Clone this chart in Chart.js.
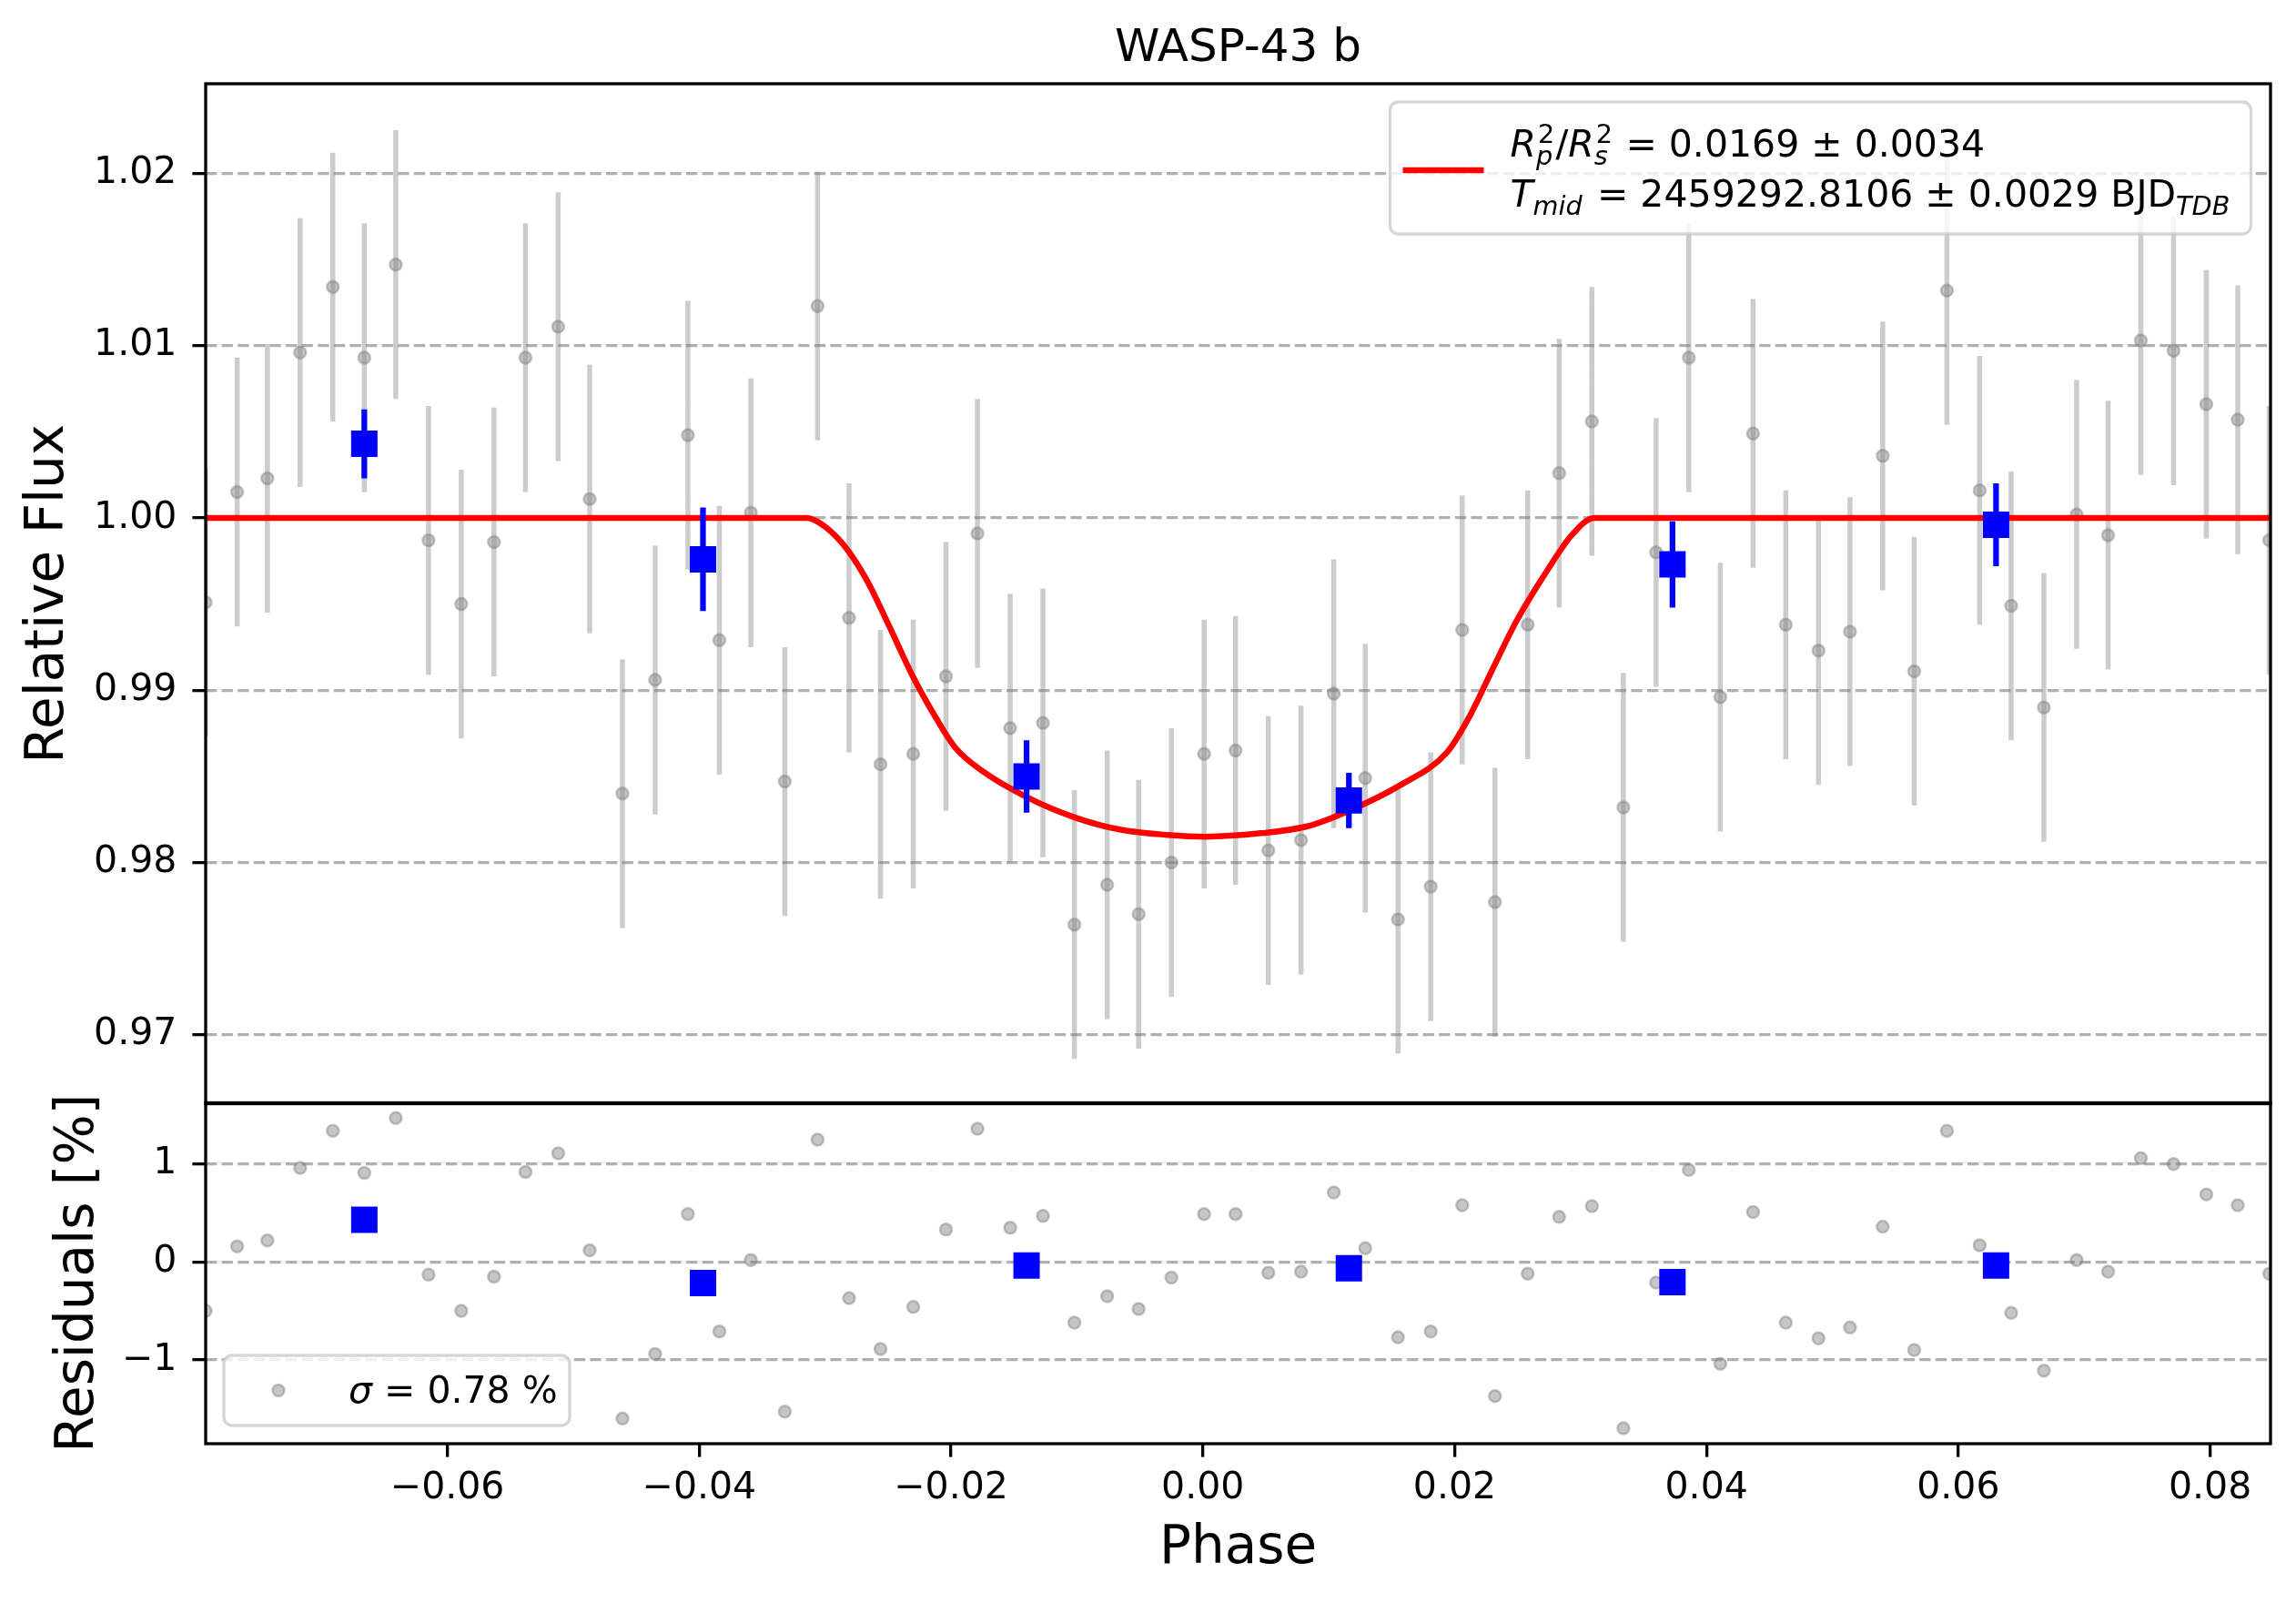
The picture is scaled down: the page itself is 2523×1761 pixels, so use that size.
<!DOCTYPE html>
<html>
<head>
<meta charset="utf-8">
<title>WASP-43 b</title>
<script src="https://cdn.jsdelivr.net/npm/chart.js@4.4.1/dist/chart.umd.min.js"></script>
<style>
  html, body { margin: 0; padding: 0; background: #fff; overflow: hidden; }
  #wrap { position: relative; width: 2523px; height: 1761px; }
  canvas { position: absolute; left: 0; }
  #flux { top: 0; }
  #resid { top: 1200px; }
</style>
</head>
<body>
<div id="wrap">
  <canvas id="resid" width="2523" height="561"></canvas>
  <canvas id="flux" width="2523" height="1224"></canvas>
</div>
<script>
// ---- data ----
const phase = [
  -0.0792, -0.0767, -0.0743, -0.0717, -0.0691, -0.0666, -0.0641, -0.0615, -0.0589, -0.0563,
  -0.0538, -0.0512, -0.0487, -0.0461, -0.0435, -0.0409, -0.0384, -0.0359, -0.0332, -0.0306,
  -0.0281, -0.0256, -0.0230, -0.0204, -0.0179, -0.0153, -0.0127, -0.0102, -0.0076, -0.0051,
  -0.0025, 0.0001, 0.0026, 0.0052, 0.0078, 0.0104, 0.0129, 0.0155, 0.0181, 0.0206,
  0.0232, 0.0258, 0.0283, 0.0309, 0.0334, 0.0360, 0.0386, 0.0411, 0.0437, 0.0463,
  0.0489, 0.0514, 0.0540, 0.0565, 0.0591, 0.0617, 0.0642, 0.0668, 0.0694, 0.0719,
  0.0745, 0.0771, 0.0797, 0.0822, 0.0847
];
const flux = [
  0.9951, 1.0015, 1.0023, 1.0096, 1.0134, 1.0093, 1.0147, 0.9987, 0.9950, 0.9986,
  1.0093, 1.0111, 1.0011, 0.9840, 0.9906, 1.0048, 0.9929, 1.0003, 0.9847, 1.0123,
  0.9942, 0.9857, 0.9863, 0.9908, 0.9991, 0.9878, 0.9881, 0.9764, 0.9787, 0.9770,
  0.9800, 0.9863, 0.9865, 0.9807, 0.9813, 0.9898, 0.9849, 0.9767, 0.9786, 0.9935,
  0.9777, 0.9938, 1.0026, 1.0056, 0.9832, 0.9980, 1.0093, 0.9896, 1.0049, 0.9938,
  0.9923, 0.9934, 1.0036, 0.9911, 1.0132, 1.0016, 0.9949, 0.9890, 1.0002, 0.9990,
  1.0103, 1.0097, 1.0066, 1.0057, 0.9987
];
const fluxErr = 0.0078;
const residual = [
  -0.50, 0.16, 0.22, 0.96, 1.34, 0.91, 1.47, -0.13, -0.50, -0.15,
  0.92, 1.11, 0.12, -1.60, -0.94, 0.49, -0.71, 0.02, -1.53, 1.25,
  -0.37, -0.89, -0.46, 0.33, 1.36, 0.35, 0.47, -0.62, -0.35, -0.48,
  -0.16, 0.49, 0.49, -0.11, -0.10, 0.71, 0.14, -0.77, -0.71, 0.58,
  -1.37, -0.12, 0.46, 0.57, -1.70, -0.21, 0.94, -1.04, 0.51, -0.62,
  -0.78, -0.67, 0.36, -0.90, 1.34, 0.17, -0.52, -1.11, 0.02, -0.10,
  1.06, 1.00, 0.69, 0.58, -0.12
];

const binPhase = [-0.0666, -0.0397, -0.0140, 0.0116, 0.0373, 0.0630];
const binFlux = [1.0043, 0.9976, 0.9850, 0.9836, 0.9973, 0.9996];
const binErr = [0.0020, 0.0030, 0.0021, 0.0016, 0.0025, 0.0024];
const binResidual = [0.43, -0.215, -0.037, -0.065, -0.206, -0.037];

const modelPhase = [
  -0.0792, -0.0315, -0.0304, -0.0286, -0.0267, -0.0249, -0.0231, -0.0212, -0.0197, -0.0175,
  -0.0140, -0.0101, -0.0065, -0.0028, 0.0002, 0.0046, 0.0083, 0.0116, 0.0157, 0.0194,
  0.0212, 0.0230, 0.0249, 0.0274, 0.0293, 0.0311, 0.0848
];
const modelFlux = [
  1.0000, 1.0000, 0.9997, 0.9985, 0.9964, 0.9937, 0.9909, 0.9884, 0.9867, 0.9853,
  0.9838, 0.9826, 0.9819, 0.9816, 0.9815, 0.9817, 0.9821, 0.9830, 0.9845, 0.9864,
  0.9885, 0.9912, 0.9940, 0.9970, 0.9990, 1.0000, 1.0000
];

const xTicks = [-0.06, -0.04, -0.02, 0.00, 0.02, 0.04, 0.06, 0.08];
const fluxTicks = [0.97, 0.98, 0.99, 1.00, 1.01, 1.02];
const residTicks = [-1, 0, 1];

const X_MIN = -0.0792, X_MAX = 0.0848;
const FLUX_MIN = 0.9660, FLUX_MAX = 1.0252;
const RES_MIN = -1.857, RES_MAX = 1.626;

// ---- style ----
const FONT = "'DejaVu Sans'";
const AXIS_W = 226;
const TICK_LEN = 14.6;
const LW = 3.3;
const SPLIT_Y = 1212;   // where the two panels meet
Chart.defaults.font.family = FONT;
Chart.defaults.color = '#000';

const minus = s => s.replace('-', '\u2212');
const fmt2 = v => minus(Number(v).toFixed(2));
const fmt0 = v => minus(Number(v).toFixed(0));

function pts(xs, ys) {
  return xs.map((x, i) => ({x: x, y: ys[i]}));
}
function errSegs(xs, ys, es) {
  const out = [];
  xs.forEach((x, i) => {
    const e = Array.isArray(es) ? es[i] : es;
    out.push({x: x, y: ys[i] - e}, {x: x, y: ys[i] + e}, {x: x, y: null});
  });
  return out;
}

function yScale(min, max, ticks, fmt, title, titlePad) {
  return {
    type: 'linear', position: 'left', min: min, max: max,
    afterBuildTicks: s => { s.ticks = ticks.map(v => ({value: v})); },
    afterFit: s => { s.width = AXIS_W; s.paddingTop = 0; s.paddingBottom = 0; },
    ticks: {font: {size: 41}, color: '#000', padding: 17, callback: v => fmt(v)},
    grid: {color: '#b0b0b0', lineWidth: LW, drawTicks: true, tickLength: TICK_LEN,
           tickColor: '#000', tickWidth: LW},
    border: {display: false, dash: [12.3, 5.3]},
    title: {display: true, text: title, color: '#000', font: {size: 58},
            padding: {top: titlePad, bottom: 0}}
  };
}

const frame = {
  id: 'frame',
  afterDraw(chart) {
    const {ctx, chartArea: a} = chart;
    ctx.save();
    ctx.strokeStyle = '#000';
    ctx.lineWidth = LW;
    ctx.strokeRect(a.left, a.top, a.right - a.left, a.bottom - a.top);
    ctx.restore();
  }
};

function roundBox(ctx, x, y, w, h, r) {
  ctx.beginPath();
  ctx.moveTo(x + r, y);
  ctx.arcTo(x + w, y, x + w, y + h, r);
  ctx.arcTo(x + w, y + h, x, y + h, r);
  ctx.arcTo(x, y + h, x, y, r);
  ctx.arcTo(x, y, x + w, y, r);
  ctx.closePath();
  ctx.fillStyle = 'rgba(255,255,255,0.8)';
  ctx.fill();
  ctx.strokeStyle = 'rgba(204,204,204,0.8)';
  ctx.lineWidth = LW;
  ctx.stroke();
}

// tiny mathtext: plain / italic runs and stacked sup/sub
function drawMath(ctx, x, y, parts, size) {
  ctx.textBaseline = 'alphabetic';
  ctx.textAlign = 'left';
  ctx.fillStyle = '#000';
  parts.forEach(p => {
    if (p.sup !== undefined || p.sub !== undefined) {
      const s = size * 0.7;
      let w = 0;
      if (p.sup) {
        ctx.font = s + 'px ' + FONT;
        ctx.fillText(p.sup, x + 2, y - size * 0.36);
        w = ctx.measureText(p.sup).width;
      }
      if (p.sub) {
        ctx.font = 'italic ' + s + 'px ' + FONT;
        ctx.fillText(p.sub, x, y + size * 0.22);
        w = Math.max(w, ctx.measureText(p.sub).width);
      }
      x += w + size * 0.08;
    } else {
      ctx.font = (p.it ? 'italic ' : '') + size + 'px ' + FONT;
      ctx.fillText(p.t, x, y);
      x += ctx.measureText(p.t).width;
    }
  });
}

const fitLabel1 = [{t: 'R', it: true}, {sup: '2', sub: 'p'}, {t: '/'}, {t: 'R', it: true},
                   {sup: '2', sub: 's'}, {t: ' = 0.0169 \u00b1 0.0034'}];
const fitLabel2 = [{t: 'T', it: true}, {sub: 'mid'}, {t: ' = 2459292.8106 \u00b1 0.0029 BJD'},
                   {sub: 'TDB'}];
const sigmaLabel = [{t: '\u03c3', it: true}, {t: ' = 0.78 %'}];

const fitLegend = {
  id: 'fitLegend',
  afterDraw(chart) {
    const {ctx, chartArea: a} = chart;
    const w = 946, h = 145;
    const bx = a.right - 21.5 - w, by = a.top + 20;
    ctx.save();
    roundBox(ctx, bx, by, w, h, 9);
    ctx.strokeStyle = 'red';
    ctx.lineWidth = 6.5;
    ctx.beginPath();
    ctx.moveTo(bx + 14, by + 75);
    ctx.lineTo(bx + 103, by + 75);
    ctx.stroke();
    drawMath(ctx, bx + 132, by + 60, fitLabel1, 41);
    drawMath(ctx, bx + 132, by + 115, fitLabel2, 41);
    ctx.restore();
  }
};

const sigmaLegend = {
  id: 'sigmaLegend',
  afterDraw(chart) {
    const {ctx, chartArea: a} = chart;
    const w = 380, h = 77;
    const bx = a.left + 20, by = a.bottom - 20 - h;
    ctx.save();
    roundBox(ctx, bx, by, w, h, 9);
    ctx.beginPath();
    ctx.arc(bx + 60, by + h / 2, 6.5, 0, Math.PI * 2);
    ctx.fillStyle = 'rgba(128,128,128,0.45)';
    ctx.fill();
    ctx.strokeStyle = 'rgba(128,128,128,0.45)';
    ctx.lineWidth = 2.5;
    ctx.stroke();
    drawMath(ctx, bx + 137, by + 52, sigmaLabel, 41);
    ctx.restore();
  }
};

const grayPoint = {
  pointStyle: 'circle', pointRadius: 6.5, borderWidth: 2.5,
  backgroundColor: 'rgba(128,128,128,0.45)', borderColor: 'rgba(128,128,128,0.45)'
};
const bluePoint = {
  pointStyle: 'rect', pointRadius: 20.5, borderWidth: 0,
  backgroundColor: '#0000ff', borderColor: '#0000ff'
};

// ---- top panel: relative flux ----
const fluxCanvas = document.getElementById('flux');
const fluxChart = new Chart(fluxCanvas, {
  type: 'scatter',
  data: {
    datasets: [
      Object.assign({label: 'binned', data: pts(binPhase, binFlux), order: 0, clip: 0}, bluePoint),
      {label: 'binned err', data: errSegs(binPhase, binFlux, binErr), showLine: true,
       borderColor: '#0000ff', borderWidth: 6.25, pointRadius: 0, order: 1, clip: 0},
      {label: 'model', data: pts(modelPhase, modelFlux), showLine: true, borderColor: 'red',
       borderWidth: 6.5, pointRadius: 0, cubicInterpolationMode: 'monotone', order: 2, clip: 0},
      Object.assign({label: 'data', data: pts(phase, flux), order: 3, clip: 0}, grayPoint),
      {label: 'data err', data: errSegs(phase, flux, fluxErr), showLine: true,
       borderColor: 'rgba(128,128,128,0.4)', borderWidth: 5.5, pointRadius: 0, order: 4, clip: 0}
    ]
  },
  options: {
    responsive: false,
    maintainAspectRatio: false,
    animation: false,
    layout: {padding: {left: 0, right: 28, top: 0, bottom: 12}},
    scales: {
      x: {type: 'linear', min: X_MIN, max: X_MAX, display: false},
      y: yScale(FLUX_MIN, FLUX_MAX, fluxTicks, fmt2, 'Relative Flux', 19)
    },
    plugins: {
      legend: {display: false},
      tooltip: {enabled: false},
      title: {display: true, text: 'WASP-43 b', fullSize: false, color: '#000',
              font: {size: 50, weight: 'normal'}, padding: {top: 24, bottom: 8}}
    }
  },
  plugins: [frame, fitLegend]
});

// ---- bottom panel: residuals ----
const residCanvas = document.getElementById('resid');
const residChart = new Chart(residCanvas, {
  type: 'scatter',
  data: {
    datasets: [
      Object.assign({label: 'binned', data: pts(binPhase, binResidual), order: 0, clip: 0}, bluePoint),
      Object.assign({label: 'residuals', data: pts(phase, residual), order: 1, clip: 0}, grayPoint)
    ]
  },
  options: {
    responsive: false,
    maintainAspectRatio: false,
    animation: false,
    layout: {padding: {left: 0, right: 28, top: 12, bottom: 0}},
    scales: {
      x: {
        type: 'linear', position: 'bottom', min: X_MIN, max: X_MAX,
        afterBuildTicks: s => { s.ticks = xTicks.map(v => ({value: v})); },
        afterFit: s => { s.height = 175; s.paddingLeft = 0; s.paddingRight = 0; },
        ticks: {font: {size: 41}, color: '#000', padding: 10, maxRotation: 0, minRotation: 0,
                autoSkip: false, callback: v => fmt2(v)},
        grid: {drawOnChartArea: false, drawTicks: true, tickLength: TICK_LEN,
               tickColor: '#000', tickWidth: LW, lineWidth: LW},
        border: {display: false},
        title: {display: true, text: 'Phase', color: '#000', font: {size: 58}, padding: 24}
      },
      y: yScale(RES_MIN, RES_MAX, residTicks, fmt0, 'Residuals [%]', 52)
    },
    plugins: {
      legend: {display: false},
      tooltip: {enabled: false}
    }
  },
  plugins: [frame, sigmaLegend]
});

// make both panels meet exactly at SPLIT_Y
const extra = Math.round(SPLIT_Y - fluxChart.chartArea.bottom);
if (extra !== 0) fluxChart.resize(2523, 1224 + extra);
const shift = Math.round(1200 + residChart.chartArea.top - SPLIT_Y);
if (shift !== 0) {
  residCanvas.style.top = (1200 - shift) + 'px';
  residChart.resize(2523, 561 + shift);
}
</script>
</body>
</html>
